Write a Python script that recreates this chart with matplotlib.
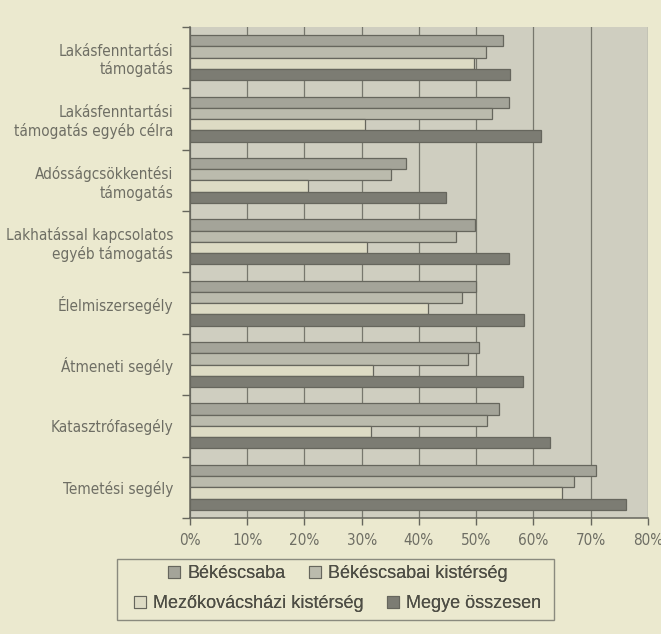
import numpy as np
import matplotlib.pyplot as plt
from matplotlib.patches import Rectangle, Patch
from matplotlib import font_manager

# categories, top to bottom
categories = [
    'Lakásfenntartási\ntámogatás',
    'Lakásfenntartási\ntámogatás egyéb célra',
    'Adósságcsökkentési\ntámogatás',
    'Lakhatással kapcsolatos\negyéb támogatás',
    'Élelmiszersegély',
    'Átmeneti segély',
    'Katasztrófasegély',
    'Temetési segély',
]

series_names = ['Békéscsaba', 'Békéscsabai kistérség',
                'Mezőkovácsházi kistérség', 'Megye összesen']

bekescsaba = [54.6, 55.7, 37.7, 49.8, 50.0, 50.4, 54.0, 70.9]
bekescsabai_kisterseg = [51.7, 52.8, 35.2, 46.5, 47.6, 48.6, 51.9, 67.0]
mezokovacshazi_kisterseg = [49.6, 30.6, 20.7, 30.9, 41.6, 32.0, 31.6, 64.9]
megye_osszesen = [55.9, 61.3, 44.8, 55.7, 58.3, 58.1, 62.8, 76.2]

x_ticks = [0, 10, 20, 30, 40, 50, 60, 70, 80]
x_ticklabels = ['0%', '10%', '20%', '30%', '40%', '50%', '60%', '70%', '80%']

colors = ['#a4a499', '#bbbbad', '#dddbc4', '#7c7c73']
edge = '#66665d'
fig_bg = '#ebe9cf'
ax_bg = '#cfcec0'
text_col = '#6e6e64'

# condensed upright face for axis labels, if one is there
cond = [f for f in font_manager.fontManager.ttflist
        if f.name == 'DejaVu Sans' and f.stretch == 'condensed'
        and f.style == 'normal' and f.weight in (400, 'normal')]
if cond:
    narrow_fp = font_manager.FontProperties(fname=cond[0].fname)
    lab_size, tick_size = 11, 11
else:
    narrow_fp = font_manager.FontProperties(family='Liberation Sans')
    lab_size, tick_size = 10, 10
plt.rcParams['font.family'] = ['Liberation Sans', 'DejaVu Sans']

fig = plt.figure(figsize=(6.61, 6.34), dpi=100, facecolor=fig_bg)
ax = fig.add_axes([0.2874, 0.183, 0.6929, 0.7744])
ax.set_facecolor(ax_bg)

data = [bekescsaba, bekescsabai_kisterseg, mezokovacshazi_kisterseg, megye_osszesen]
y = np.arange(len(categories))
h = 0.183
for i, vals in enumerate(data):
    ax.barh(y + (i - 1.5) * h, vals, height=h, color=colors[i],
            edgecolor=edge, linewidth=0.9, zorder=3)

ax.set_xlim(0, 80)
ax.set_ylim(len(categories) - 0.5, -0.5)
ax.set_xticks(x_ticks)
ax.set_xticklabels(x_ticklabels, color=text_col)
ax.set_yticks(y)
ax.set_yticklabels(categories, color=text_col, linespacing=1.2)
for t in ax.get_xticklabels() + ax.get_yticklabels():
    t.set_fontproperties(narrow_fp)
for t in ax.get_xticklabels():
    t.set_fontsize(tick_size)
for t in ax.get_yticklabels():
    t.set_fontsize(lab_size)
ax.set_yticks(np.arange(len(categories) + 1) - 0.5, minor=True)
ax.tick_params(axis='y', which='major', length=0, pad=12)
ax.tick_params(axis='y', which='minor', length=6, width=1, color=edge)
ax.tick_params(axis='x', length=5, width=1, color=edge, pad=6)

ax.xaxis.grid(True, color='#77776d', linewidth=0.9, zorder=1)
ax.set_axisbelow(True)
for s in ['top', 'right']:
    ax.spines[s].set_visible(False)
for s in ['left', 'bottom']:
    ax.spines[s].set_color(edge)
    ax.spines[s].set_linewidth(1.1)

# legend box with two centered rows
box = Rectangle((117 / 661, 1 - 620 / 634), (554 - 117) / 661, (620 - 559) / 634,
                transform=fig.transFigure, facecolor='none', edgecolor='#8a8a7e',
                linewidth=1)
fig.patches.append(box)

handles = [Patch(facecolor=colors[i], edgecolor=edge, linewidth=0.8) for i in range(4)]
rows = [(0, 1, 1 - 574 / 634), (2, 3, 1 - 604 / 634)]
for a, b, yy in rows:
    leg = fig.legend([handles[a], handles[b]], [series_names[a], series_names[b]],
                     loc='center', bbox_to_anchor=(338 / 661, yy), ncol=2,
                     frameon=False, fontsize=13, handlelength=0.65,
                     handleheight=0.65, handletextpad=0.4, columnspacing=1.3,
                     borderpad=0, labelcolor='#4e4e45')
    fig.add_artist(leg)

fig.savefig('out.png', dpi=100, facecolor=fig_bg)
